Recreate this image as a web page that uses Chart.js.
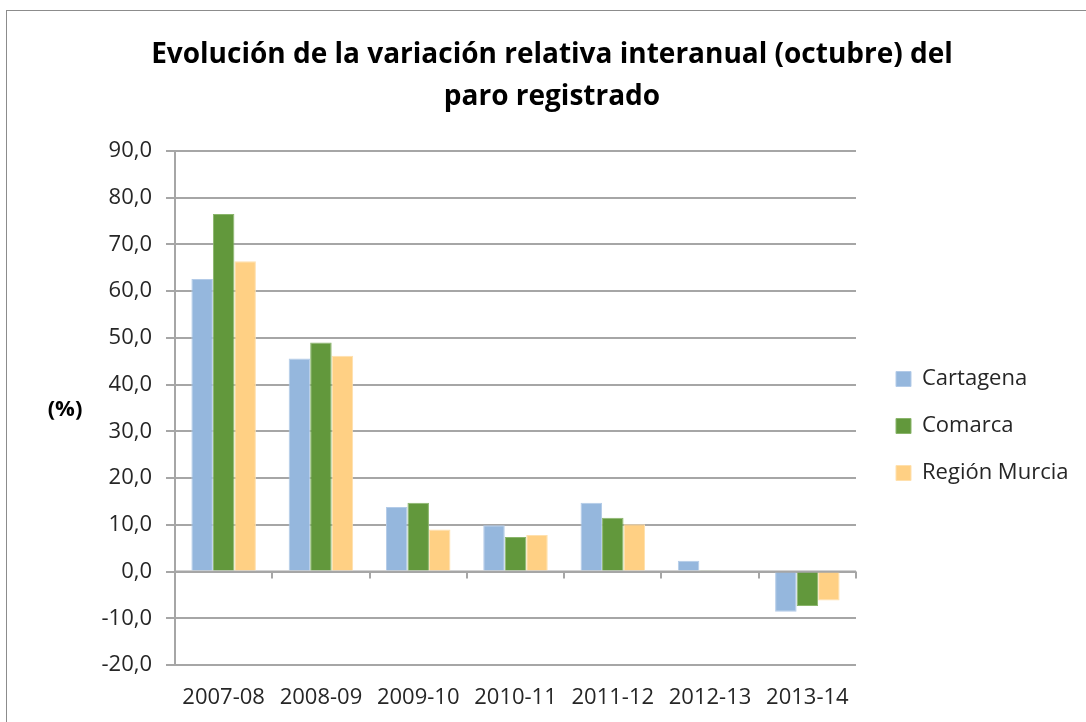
<!DOCTYPE html>
<html>
<head>
<meta charset="utf-8">
<script src="https://cdn.jsdelivr.net/npm/chart.js@4.4.1/dist/chart.umd.min.js"></script>
<style>
    html, body { margin: 0; padding: 0; background: #fff; overflow: hidden; }
    #wrap { position: relative; width: 1086px; height: 722px; }
    #marco { position: absolute; left: 6px; top: 10px; width: 1100px; height: 730px; border: 1px solid #8c8c8c; pointer-events: none; }
</style>
</head>
<body>
<div id="wrap">
    <canvas id="paroChart" width="1086" height="722"></canvas>
    <div id="marco"></div>
</div>
<script>
const periodos = ['2007-08', '2008-09', '2009-10', '2010-11', '2011-12', '2012-13', '2013-14'];
const cartagena = [62.6, 45.6, 13.8, 9.9, 14.7, 2.3, -8.6];
const comarca = [76.5, 49.0, 14.7, 7.4, 11.5, 0.3, -7.4];
const regionMurcia = [66.4, 46.2, 9.0, 7.8, 10.1, 0.2, -6.2];
const titulo = ['Evolución de la variación relativa interanual (octubre) del', 'paro registrado'];

const fuente = "'Open Sans', 'Liberation Sans', sans-serif";

// Línea del cero con sus marcas (debajo de las barras)
const marcasCero = {
    id: 'marcasCero',
    beforeDatasetsDraw(chart) {
        const {ctx, scales: {x, y}} = chart;
        const y0 = y.getPixelForValue(0);
        const paso = x.getPixelForValue(1) - x.getPixelForValue(0);
        ctx.save();
        ctx.strokeStyle = '#a6a6a6';
        ctx.lineWidth = 2;
        ctx.beginPath();
        ctx.moveTo(chart.chartArea.left, y0);
        ctx.lineTo(chart.chartArea.right, y0);
        for (let i = 0; i <= periodos.length; i++) {
            const px = Math.round(x.getPixelForValue(i) - paso / 2);
            ctx.moveTo(px, y0);
            ctx.lineTo(px, y0 + 7);
        }
        ctx.stroke();
        ctx.restore();
    },
    afterDraw(chart) {
        const {ctx} = chart;
        ctx.save();
        ctx.fillStyle = '#000';
        ctx.font = "bold 22px " + fuente;
        ctx.textAlign = 'center';
        ctx.textBaseline = 'middle';
        ctx.fillText('(%)', 65, 410);
        ctx.restore();
    }
};

// Ancho fijo de la leyenda
const leyendaFija = {
    id: 'leyendaFija',
    beforeInit(chart) {
        const fit = chart.legend.fit;
        chart.legend.fit = function () {
            fit.call(this);
            this.width = 230;
        };
    },
    afterLayout(chart) {
        chart.legend.left += 15;
        chart.legend.top += 65;
        chart.legend.bottom += 65;
    }
};

new Chart(document.getElementById('paroChart'), {
    type: 'bar',
    data: {
        labels: periodos,
        datasets: [
            { label: 'Cartagena', data: cartagena, backgroundColor: '#95b7dd', borderColor: '#b3cbe8', borderWidth: 1 },
            { label: 'Comarca', data: comarca, backgroundColor: '#62983c', borderColor: '#8ab56b', borderWidth: 1 },
            { label: 'Región Murcia', data: regionMurcia, backgroundColor: '#ffd084', borderColor: '#ffe0ad', borderWidth: 1 }
        ]
    },
    options: {
        responsive: false,
        animation: false,
        layout: { padding: { left: 18, right: 0, top: 0, bottom: 0 } },
        datasets: { bar: { categoryPercentage: 0.663, barPercentage: 1 } },
        plugins: {
            title: {
                display: true,
                text: titulo,
                color: '#000',
                font: { family: fuente, size: 28, weight: 'bold', lineHeight: 1.5 },
                padding: { top: 34, bottom: 33 }
            },
            legend: {
                position: 'right',
                labels: {
                    color: '#262626',
                    font: { family: fuente, size: 22 },
                    boxWidth: 15,
                    boxHeight: 15,
                    padding: 25
                }
            },
            tooltip: { enabled: false }
        },
        scales: {
            x: {
                grid: { display: false, drawTicks: false },
                border: { display: false },
                ticks: { color: '#262626', font: { family: fuente, size: 22 }, padding: 20, maxRotation: 0 },
                afterFit(scale) { scale.height = 57; }
            },
            y: {
                min: -20,
                max: 90,
                ticks: {
                    stepSize: 10,
                    color: '#262626',
                    font: { family: fuente, size: 22 },
                    padding: 14,
                    callback: v => v.toFixed(1).replace('.', ',')
                },
                grid: { color: '#a6a6a6', lineWidth: 2, tickLength: 9 },
                border: { color: '#a6a6a6', width: 2 },
                afterFit(scale) { scale.width = 157; }
            }
        }
    },
    plugins: [marcasCero, leyendaFija]
});
</script>
</body>
</html>
